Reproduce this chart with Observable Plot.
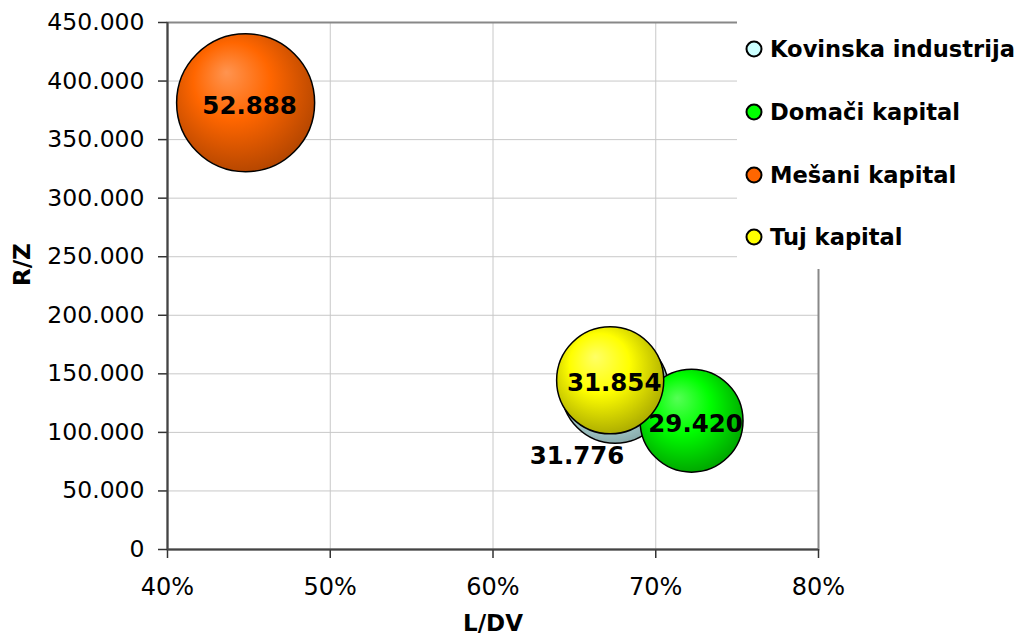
<!DOCTYPE html>
<html>
<head>
<meta charset="utf-8">
<script src="https://cdn.jsdelivr.net/npm/d3@7"></script>
<script src="https://cdn.jsdelivr.net/npm/@observablehq/plot@0.6"></script>
<style>
  html, body { margin: 0; padding: 0; background: #fff; }
  #wrap { position: relative; width: 1022px; height: 638px; font-family: "DejaVu Sans", Verdana, sans-serif; }
  #legend { position: absolute; left: 737px; top: 21px; width: 285px; height: 248px; background: #fff; }
  .row { position: absolute; left: 8px; display: flex; align-items: center; font-weight: bold; font-size: 22.6px; color: #000; white-space: nowrap; }
  .row svg { margin-right: 7px; }
</style>
</head>
<body>
<div id="wrap"></div>
<script>
// Data
const series = ["Kovinska industrija", "Domači kapital", "Mešani kapital", "Tuj kapital"];
const ldv = [0.675, 0.722, 0.448, 0.672];          // L/DV
const rz = [136500, 110000, 381500, 144500];        // R/Z
const bubbleSize = [31.776, 29.420, 52.888, 31.854];
const bubbleLabels = ["31.776", "29.420", "52.888", "31.854"];
const baseColors = ["#ccffff", "#00ff00", "#ff6600", "#ffff00"];
const lightColors = ["#e0ffff", "#55ff55", "#ff9450", "#ffff66"];
const darkColors = ["#84a4a4", "#00a000", "#b04400", "#a6a600"];
const xTicks = [0.4, 0.5, 0.6, 0.7, 0.8];
const yTicks = [0, 50000, 100000, 150000, 200000, 250000, 300000, 350000, 400000, 450000];

const data = series.map((s, i) => ({series: s, x: ldv[i], y: rz[i], size: bubbleSize[i], label: bubbleLabels[i]}));
const gradIds = series.map((s, i) => "grad" + i);

const loc = d3.formatLocale({decimal: ",", thousands: ".", grouping: [3], currency: ["", ""]});
const fmtY = loc.format(",");

const plot = Plot.plot({
  width: 1022,
  height: 638,
  marginLeft: 167,
  marginRight: 204,
  marginTop: 22,
  marginBottom: 89,
  style: {fontFamily: "DejaVu Sans, Verdana, sans-serif", fontSize: "23px", color: "#000", background: "#fff"},
  x: {domain: [0.4, 0.8]},
  y: {domain: [0, 450000]},
  r: {type: "sqrt", domain: [0, 52.888], range: [0, 69]},
  color: {domain: series, range: gradIds.map(id => `url(#${id})`)},
  marks: [
    Plot.gridX(xTicks, {stroke: "#c8c8c8", strokeOpacity: 1, strokeWidth: 1}),
    Plot.gridY(yTicks, {stroke: "#c8c8c8", strokeOpacity: 1, strokeWidth: 1}),
    Plot.frame({stroke: "#888", strokeWidth: 2}),
    Plot.axisY(yTicks, {tickSize: 9, tickPadding: 14, tickFormat: d => d === 0 ? "0" : fmtY(d), fontSize: 23.5, stroke: "#333", strokeWidth: 1.5, label: null}),
    Plot.axisX(xTicks, {tickSize: 9, tickPadding: 19, tickFormat: d3.format(".0%"), fontSize: 24, stroke: "#333", strokeWidth: 1.5, label: null}),
    Plot.ruleY([0], {stroke: "#444", strokeWidth: 2}),
    Plot.ruleX([0.4], {stroke: "#444", strokeWidth: 2}),
    Plot.dot(data, {x: "x", y: "y", r: "size", fill: "series", stroke: "#000", strokeWidth: 1.5, sort: null}),
    Plot.text(data.filter(d => d.series !== series[0]), {x: "x", y: "y", text: "label", fontWeight: "bold", fontSize: 24.5, fill: "#000", dx: 4, dy: 3}),
    Plot.text(data.filter(d => d.series === series[0]), {x: "x", y: "y", text: "label", fontWeight: "bold", fontSize: 24.5, fill: "#000", dx: -38, dy: 67}),
    Plot.text(["L/DV"], {frameAnchor: "bottom", dy: 81, fontWeight: "bold", fontSize: 23, fill: "#000"}),
    Plot.text(["R/Z"], {frameAnchor: "left", dx: -145, rotate: -90, fontWeight: "bold", fontSize: 23, fill: "#000"})
  ]
});

// radial gradients for the bubbles
const defs = d3.select(plot).insert("defs", ":first-child");
series.forEach((s, i) => {
  const g = defs.append("radialGradient").attr("id", gradIds[i])
    .attr("cx", "0.45").attr("cy", "0.42").attr("r", "0.62")
    .attr("fx", "0.36").attr("fy", "0.28");
  g.append("stop").attr("offset", "0").attr("stop-color", lightColors[i]);
  g.append("stop").attr("offset", "0.45").attr("stop-color", baseColors[i]);
  g.append("stop").attr("offset", "1").attr("stop-color", darkColors[i]);
});

const wrap = document.getElementById("wrap");
wrap.appendChild(plot);

// legend overlay
const legend = document.createElement("div");
legend.id = "legend";
const rowTops = [15, 78, 141, 203];
series.forEach((s, i) => {
  const row = document.createElement("div");
  row.className = "row";
  row.style.top = rowTops[i] + "px";
  row.innerHTML = `<svg width="18" height="18"><circle cx="9" cy="9" r="7.5" fill="${baseColors[i]}" stroke="#000" stroke-width="2"/></svg><span>${s}</span>`;
  legend.appendChild(row);
});
wrap.appendChild(legend);
</script>
</body>
</html>
